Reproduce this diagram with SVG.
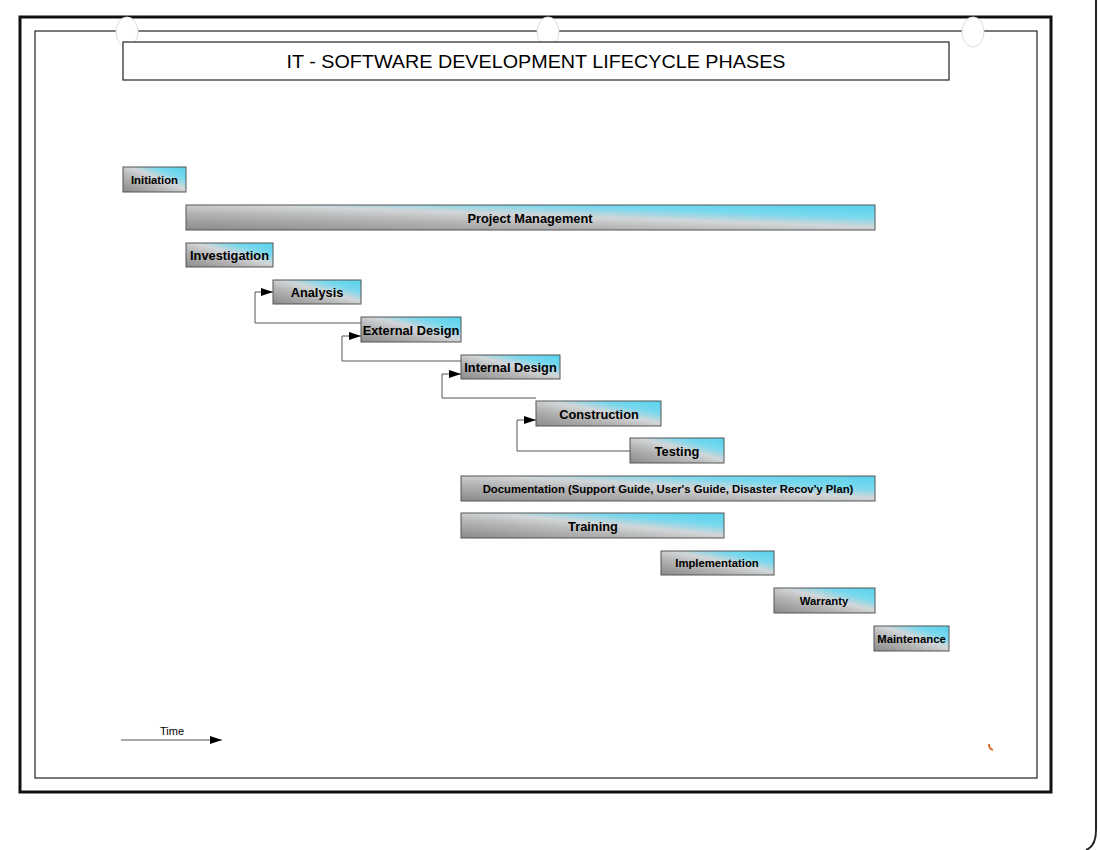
<svg xmlns="http://www.w3.org/2000/svg" width="1100" height="850" viewBox="0 0 1100 850">
<defs>
<linearGradient id="bar" x1="0" y1="1" x2="1" y2="0">
<stop offset="0" stop-color="#8a8a8a"/>
<stop offset="0.35" stop-color="#b5b5b5"/>
<stop offset="0.55" stop-color="#d2d6d8"/>
<stop offset="0.75" stop-color="#78d8ee"/>
<stop offset="1" stop-color="#58d2ec"/>
</linearGradient>
<marker id="arr" markerWidth="12" markerHeight="8" refX="12" refY="4" orient="auto" markerUnits="userSpaceOnUse">
<path d="M0,0 L12,4 L0,8 Z" fill="#000"/>
</marker>
<style>
.bar{fill:url(#bar);stroke:#555;stroke-width:1}
.lbl{font-family:"Liberation Sans",Arial,sans-serif;font-weight:bold;font-size:12.8px;fill:#000;text-anchor:middle;dominant-baseline:central}
.sm{font-size:11.3px}
.conn{fill:none;stroke:#555;stroke-width:1}
</style>
</defs>
<rect width="1100" height="850" fill="#fff"/>
<g id="frame">
<rect x="20" y="17" width="1031" height="775" fill="none" stroke="#111" stroke-width="3"/>
<rect x="35" y="31" width="1002" height="747" fill="none" stroke="#222" stroke-width="1.2"/>
<ellipse cx="127" cy="32" rx="11" ry="15" fill="#fff" stroke="#ddd" stroke-width="1"/>
<ellipse cx="548" cy="32" rx="11" ry="15" fill="#fff" stroke="#ddd" stroke-width="1"/>
<ellipse cx="973" cy="32" rx="11" ry="15" fill="#fff" stroke="#ddd" stroke-width="1"/>
<path d="M1096,0 V830 Q1096,846 1086,850" fill="none" stroke="#222" stroke-width="2"/>
<path d="M989,744 q0,5 4,6" fill="none" stroke="#e07030" stroke-width="2"/>
</g>
<g id="title">
<rect x="123" y="42" width="826" height="38" fill="#fff" stroke="#222" stroke-width="1.2"/>
<text x="536" y="61" font-family="Liberation Sans,Arial,sans-serif" font-size="19" text-anchor="middle" dominant-baseline="central" textLength="499" lengthAdjust="spacingAndGlyphs">IT - SOFTWARE DEVELOPMENT LIFECYCLE PHASES</text>
</g>
<g id="connectors">
<path class="conn" d="M361,323 H255 V292 H273" marker-end="url(#arr)"/>
<path class="conn" d="M461,361 H342 V336 H361" marker-end="url(#arr)"/>
<path class="conn" d="M536,398 H442 V374 H461" marker-end="url(#arr)"/>
<path class="conn" d="M630,451 H517 V420 H536" marker-end="url(#arr)"/>
</g>
<g id="initiation"><rect class="bar" x="123" y="167" width="63" height="25"/><text class="lbl sm" x="154.5" y="180">Initiation</text></g>
<g id="project-management"><rect class="bar" x="186" y="205" width="689" height="25"/><text class="lbl" x="530" y="218">Project Management</text></g>
<g id="investigation"><rect class="bar" x="186" y="243" width="87" height="24"/><text class="lbl" x="229.5" y="255">Investigation</text></g>
<g id="analysis"><rect class="bar" x="273" y="280" width="88" height="24"/><text class="lbl" x="317" y="292">Analysis</text></g>
<g id="external-design"><rect class="bar" x="361" y="317" width="100" height="25"/><text class="lbl" x="411" y="330">External Design</text></g>
<g id="internal-design"><rect class="bar" x="461" y="355" width="99" height="24"/><text class="lbl" x="510.5" y="367">Internal Design</text></g>
<g id="construction"><rect class="bar" x="536" y="401" width="125" height="25"/><text class="lbl" x="599" y="414">Construction</text></g>
<g id="testing"><rect class="bar" x="630" y="438" width="94" height="25"/><text class="lbl" x="677" y="451">Testing</text></g>
<g id="documentation"><rect class="bar" x="461" y="476" width="414" height="25"/><text class="lbl sm" x="668" y="489">Documentation (Support Guide, User's Guide, Disaster Recov'y Plan)</text></g>
<g id="training"><rect class="bar" x="461" y="513" width="263" height="25"/><text class="lbl" x="593" y="526" font-size="13.5">Training</text></g>
<g id="implementation"><rect class="bar" x="661" y="551" width="113" height="24"/><text class="lbl sm" x="717" y="563">Implementation</text></g>
<g id="warranty"><rect class="bar" x="774" y="588" width="101" height="25"/><text class="lbl sm" x="824" y="601">Warranty</text></g>
<g id="maintenance"><rect class="bar" x="874" y="626" width="75" height="25"/><text class="lbl sm" x="911.5" y="639">Maintenance</text></g>
<g id="time">
<path d="M121,740 H222" fill="none" stroke="#555" stroke-width="1" marker-end="url(#arr)"/>
<text x="172" y="731" font-family="Liberation Sans,Arial,sans-serif" font-size="11" text-anchor="middle" dominant-baseline="central">Time</text>
</g>
</svg>
